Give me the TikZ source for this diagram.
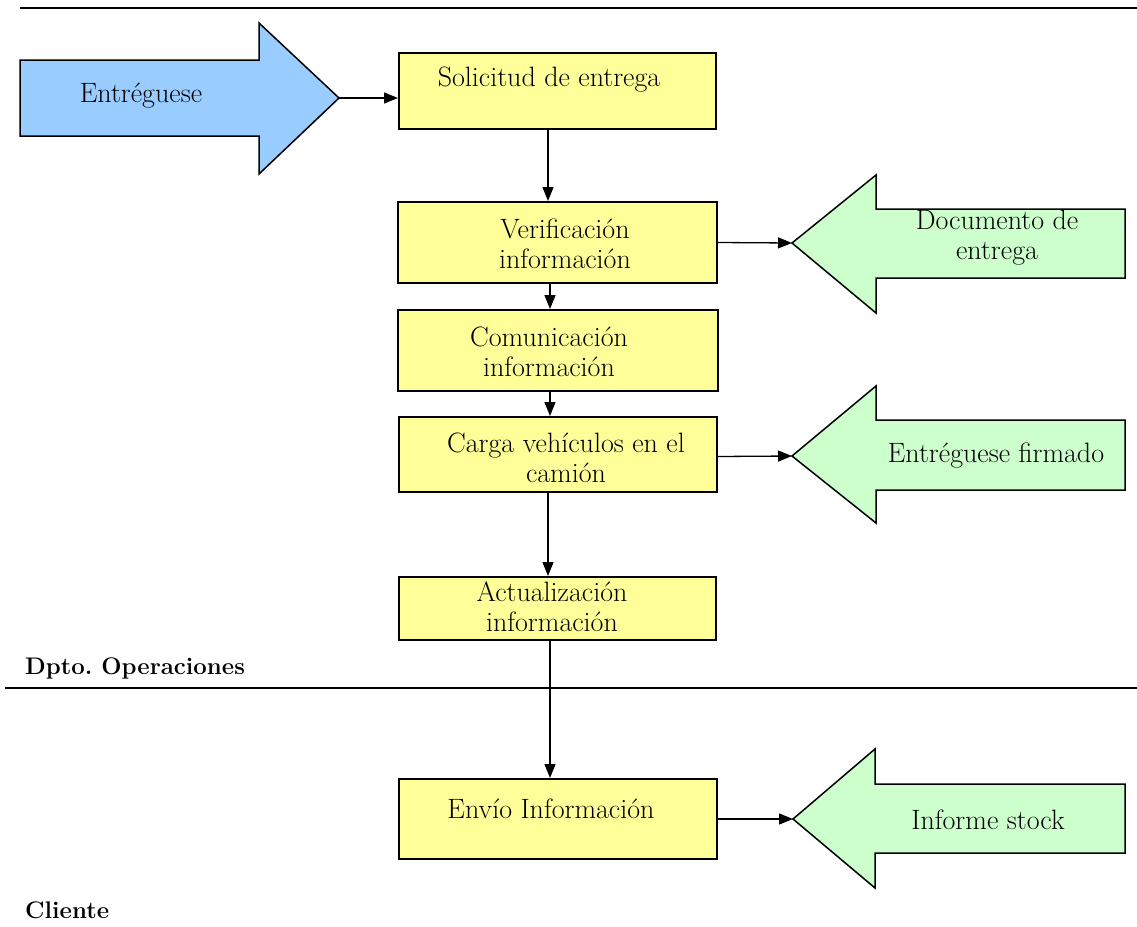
\documentclass[tikz,border=0pt]{standalone}
\usetikzlibrary{arrows.meta}
\definecolor{boxyellow}{HTML}{FFFF99}
\definecolor{arrblue}{HTML}{99CCFF}
\definecolor{arrgreen}{HTML}{CCFFCC}
\begin{document}
\frenchspacing
\begin{tikzpicture}[x=1pt,y=-1pt,
  box/.style={draw, line width=2pt, fill=boxyellow, inner sep=0pt},
  txt/.style={font=\fontsize{28}{30}\selectfont, align=center, inner sep=0pt},
  lane/.style={font=\fontsize{24}{30}\selectfont\bfseries, anchor=west, inner sep=0pt},
  conn/.style={line width=1.3pt, -{Triangle[length=14pt,width=11pt]}},
  bigarrow/.style={draw, line width=1.5pt, line join=miter},
  rule/.style={line width=2pt}
]
\useasboundingbox (0,0) rectangle (1137,926);
% rules
\draw[rule] (20,8) -- (1137,8);
\draw[rule] (5,688) -- (1137,688);
% big arrows
\draw[bigarrow, fill=arrblue] (20,60) -- (259,60) -- (259,23) -- (339,98) -- (259,174) -- (259,136) -- (20,136) -- cycle;
\coordinate (btip) at (339,98);
\draw[bigarrow, fill=arrgreen] (792,243) -- (876,175) -- (876,209) -- (1125,209) -- (1125,278) -- (876,278) -- (876,313) -- cycle;
\coordinate (g1tip) at (792,243);
\draw[bigarrow, fill=arrgreen] (792,456) -- (876,386) -- (876,420) -- (1125,420) -- (1125,490) -- (876,490) -- (876,523) -- cycle;
\coordinate (g2tip) at (792,456);
\draw[bigarrow, fill=arrgreen] (793,819) -- (875,749) -- (875,784) -- (1125,784) -- (1125,853) -- (875,853) -- (875,888) -- cycle;
\coordinate (g3tip) at (793,819);
% boxes
\node[box, minimum width=317pt, minimum height=76pt] (sol) at (557.5,91) {};
\node[box, minimum width=319pt, minimum height=81pt] (ver) at (557.5,242.5) {};
\node[box, minimum width=320pt, minimum height=81pt] (com) at (558,350.5) {};
\node[box, minimum width=318pt, minimum height=75pt] (car) at (558,454.5) {};
\node[box, minimum width=317pt, minimum height=63pt] (act) at (557.5,608.5) {};
\node[box, minimum width=318pt, minimum height=80pt] (env) at (558,819) {};
% texts
\node[txt] (tblue) at (141,96) {Entréguese};
\node[txt] (tsol) at (549,80) {Solicitud de entrega};
\node[txt] (tver) at (565,244) {Verificación\\información};
\node[txt] (tcom) at (549,352) {Comunicación\\información};
\node[txt] (tcar) at (566,458) {Carga vehículos en el\\camión};
\node[txt] (tact) at (552,607) {Actualización\\información};
\node[txt] (tenv) at (551,809) {Envío Información};
\node[txt] (tg1) at (997,238) {Documento de\\entrega};
\node[txt] (tg2) at (996,456) {Entréguese firmado};
\node[txt] (tg3) at (988,820) {Informe stock};
\node[lane] (lop) at (25,668) {Dpto. Operaciones};
\node[lane] (lcl) at (25,910) {Cliente};
% connectors
\draw[conn] (btip) -- (btip -| sol.west);
\draw[conn] ([xshift=-9.5pt]sol.south) -- ([xshift=-9.5pt]ver.north);
\draw[conn] ([xshift=-7.5pt]ver.south) -- ([xshift=-8pt]com.north);
\draw[conn] ([xshift=-8pt]com.south) -- ([xshift=-8pt]car.north);
\draw[conn] ([xshift=-10pt]car.south) -- ([xshift=-10pt]car.south |- act.north);
\draw[conn] ([xshift=-7.5pt]act.south) -- ([xshift=-7.5pt]act.south |- env.north);
\draw[conn] (ver.east) -- (g1tip);
\draw[conn] ([yshift=-2pt]car.east) -- (g2tip);
\draw[conn] (env.east) -- (g3tip);
\end{tikzpicture}
\end{document}
